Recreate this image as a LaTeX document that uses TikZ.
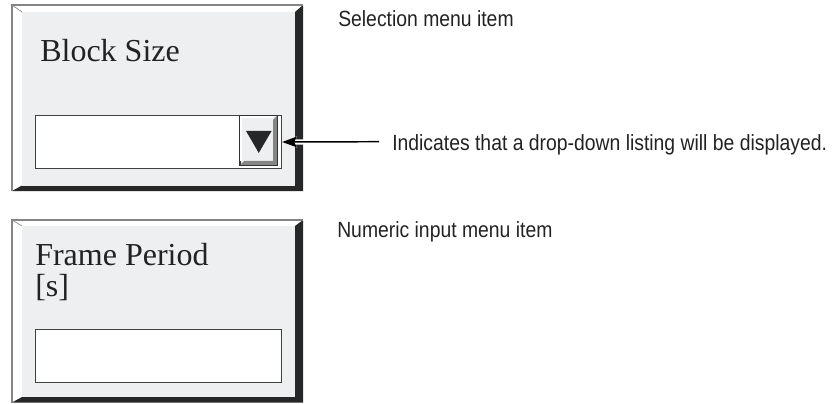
\documentclass[tikz,border=0pt]{standalone}
\usepackage{fontspec}
\setmainfont{Liberation Serif}
\newfontfamily\narrowsans[FakeStretch=0.88]{Liberation Sans}
\usetikzlibrary{arrows.meta}
\definecolor{face}{HTML}{EEEFF1}
\definecolor{darkedge}{HTML}{272727}
\definecolor{midgray}{HTML}{858585}
\definecolor{inkc}{HTML}{222222}
\newcommand\mypanel[8]{%
  \fill[white] (#1,#2) rectangle (#3,#4);
  \fill[darkedge] (#3,#2) -- (#3,#4) -- (#1,#4) -- (#5,#8) -- (#7,#8) -- (#7,#6) -- cycle;
  \fill[face] (#5,#6) rectangle (#7,#8);
  \draw[midgray, line width=1pt] (#1,#4) -- (#1,#2) -- (#3,#2);
  \draw[midgray, line width=0.5pt] (#1,#2) -- (#5,#6);
}
\begin{document}
\begin{tikzpicture}[x=0.75pt,y=-0.75pt,
  sidelabel/.style={font=\narrowsans\fontsize{16.5}{20}\selectfont, inner sep=0, anchor=base west, text=inkc},
  titletext/.style={font=\fontsize{24}{28}\selectfont, inner sep=0, anchor=base west, text=inkc},
  fieldbox/.style={draw=black!75, line width=0.7pt, fill=white, inner sep=0, minimum width=185pt},
  buttonbox/.style={draw=black!80, line width=0.6pt, fill=face, inner sep=0, minimum width=28pt, minimum height=37.1pt},
  pointer/.style={line width=1.1pt, draw=black, -{Stealth[length=11pt,width=8pt,inset=2pt]}}
]
\useasboundingbox (0,0) rectangle (838,403);

% panels
\mypanel{12}{5}{303}{191}{22}{12}{295}{185.5}
\mypanel{12}{220}{303}{402.5}{22}{226}{295}{397}

% fields
\node[fieldbox, minimum height=39.45pt] (f1) at (158.35,142) {};
\node[fieldbox, minimum height=39.75pt] (f2) at (158.35,355.8) {};

% drop-down button
\node[buttonbox] (btn) at (258.65,140.35) {};
\fill[midgray] (btn.north east) -- (btn.south east) -- (btn.south west)
  -- ([shift={(4.5,-4.5)}]btn.south west) -- ([shift={(-4.5,-4.5)}]btn.south east)
  -- ([shift={(-4.5,4.5)}]btn.north east) -- cycle;
\draw[white, line width=1.2pt] ([shift={(1.5,-4.5)}]btn.south west) -- ([shift={(1.5,1.5)}]btn.north west) -- ([shift={(-4.5,1.5)}]btn.north east);
\draw[black!80, line width=0.6pt] (btn.north west) rectangle (btn.south east);
\fill[darkedge] ([shift={(-12.7,-9.5)}]btn.center) -- ([shift={(13,-9.5)}]btn.center) -- ([shift={(0.1,12.6)}]btn.center) -- cycle;

% texts
\node[titletext] (t1) at (40,61.7) {Block Size};
\node[titletext] (t2) at (35,265.7) {Frame Period};
\node[titletext] (t3) at (35,296) {[s]};
\node[sidelabel] (l1) at (338,27) {Selection menu item};
\node[sidelabel] (l2) at (392,150) {Indicates that a drop-down listing will be displayed.};
\node[sidelabel] (l3) at (337,237) {Numeric input menu item};

% arrow
\coordinate (astart) at (379,141.7);
\draw[pointer, draw=white, line width=4pt] (astart) -- (f1.east);
\draw[pointer] (astart) -- (f1.east);
\end{tikzpicture}
\end{document}
